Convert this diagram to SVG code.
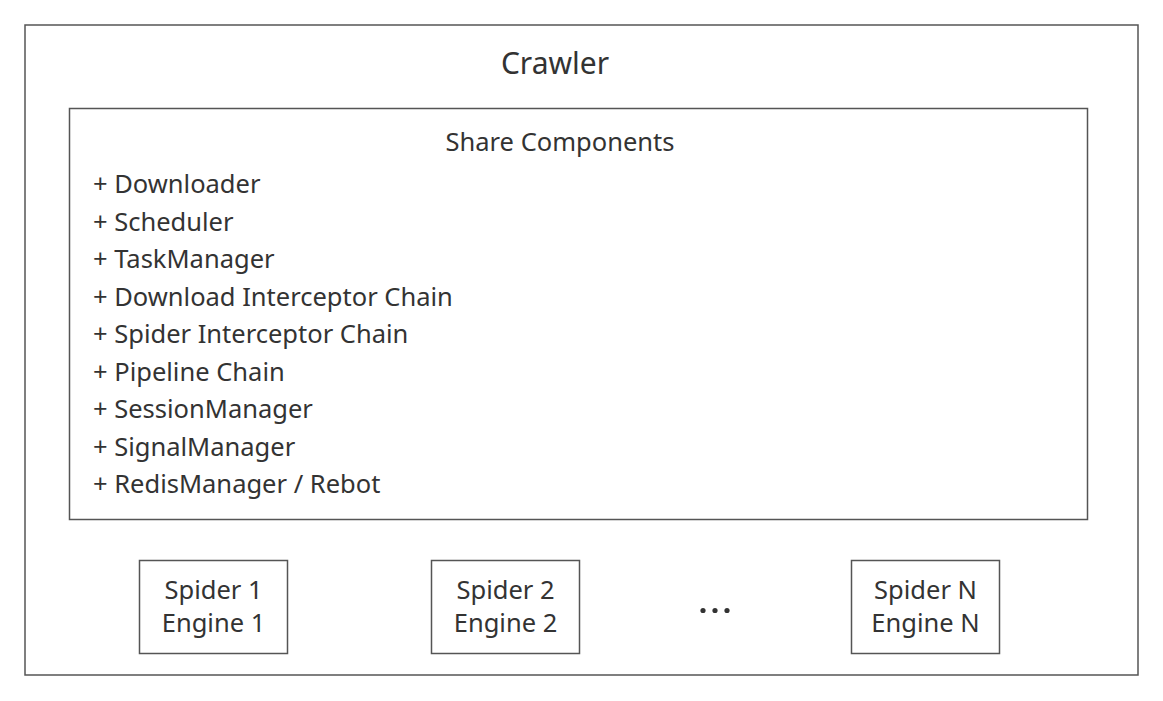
<svg xmlns="http://www.w3.org/2000/svg" width="1163" height="701" viewBox="0 0 1163 701">
<style>
.box{fill:#fff;stroke:#555;stroke-width:1.5}
.t{font-family:"Noto Sans","Open Sans","Liberation Sans",sans-serif;fill:#333;font-size:25.5px}
.c{text-anchor:middle}
.big{font-size:30px}
</style>
<rect width="1163" height="701" fill="#fff"/>
<g id="crawler">
<rect class="box" x="25" y="25" width="1113" height="650" stroke-width="2"/>
<text class="t c big" x="555" y="74">Crawler</text>
</g>
<g id="share-components">
<rect class="box" x="69.5" y="108.5" width="1018" height="411"/>
<text class="t c" x="560" y="151">Share Components</text>
<text class="t" x="93" y="193">+ Downloader</text>
<text class="t" x="93" y="230.5">+ Scheduler</text>
<text class="t" x="93" y="268">+ TaskManager</text>
<text class="t" x="93" y="305.5">+ Download Interceptor Chain</text>
<text class="t" x="93" y="343">+ Spider Interceptor Chain</text>
<text class="t" x="93" y="380.5">+ Pipeline Chain</text>
<text class="t" x="93" y="418">+ SessionManager</text>
<text class="t" x="93" y="455.5">+ SignalManager</text>
<text class="t" x="93" y="493">+ RedisManager / Rebot</text>
</g>
<g id="spider1">
<rect class="box" x="139.5" y="560.5" width="148" height="93"/>
<text class="t c" x="213.5" y="599">Spider 1</text>
<text class="t c" x="213.5" y="632">Engine 1</text>
</g>
<g id="spider2">
<rect class="box" x="431.5" y="560.5" width="148" height="93"/>
<text class="t c" x="505.5" y="599">Spider 2</text>
<text class="t c" x="505.5" y="632">Engine 2</text>
</g>
<g id="ellipsis" fill="#333">
<circle cx="703" cy="610.5" r="2.6"/>
<circle cx="715" cy="610.5" r="2.6"/>
<circle cx="727" cy="610.5" r="2.6"/>
</g>
<g id="spiderN">
<rect class="box" x="851.5" y="560.5" width="148" height="93"/>
<text class="t c" x="925.5" y="599">Spider N</text>
<text class="t c" x="925.5" y="632">Engine N</text>
</g>
<g id="connectors"></g>
</svg>
